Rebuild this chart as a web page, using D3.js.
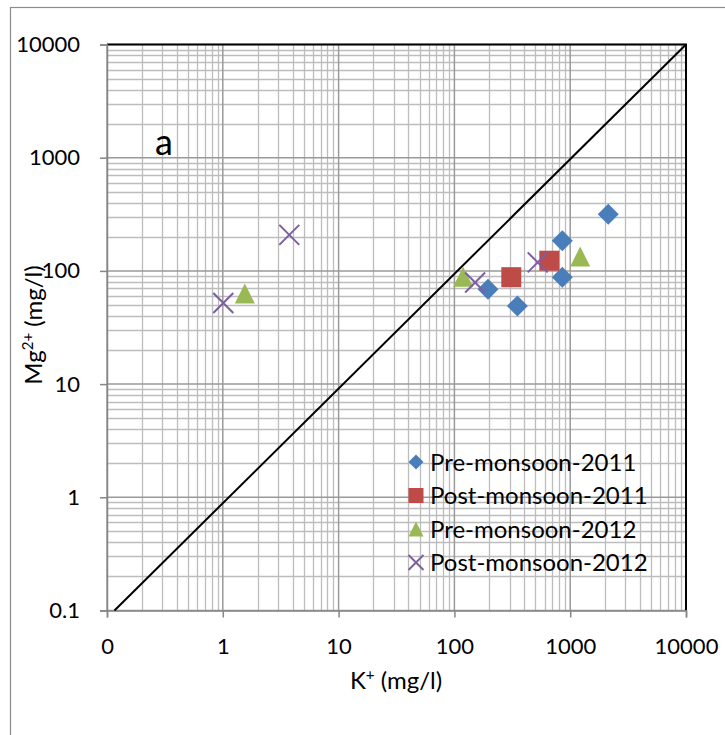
<!DOCTYPE html>
<html>
<head>
<meta charset="utf-8">
<script src="https://cdn.jsdelivr.net/npm/d3@7"></script>
<style>
  body { margin: 0; background: #fff; }
  svg text { font-family: Lato, "Liberation Sans", Arial, sans-serif; fill: #000; }
</style>
</head>
<body>
<svg id="chart" width="725" height="735"></svg>
<script>
/*** DATA ***/
var series_names = ["Pre-monsoon-2011", "Post-monsoon-2011", "Pre-monsoon-2012", "Post-monsoon-2012"];
var pre_2011  = [[2130, 317], [855, 185], [855, 88], [195, 69], [350, 49]];
var post_2011 = [[310, 88], [660, 123]];
var pre_2012  = [[1.55, 63], [119, 89], [1220, 134]];
var post_2012 = [[1.01, 52], [3.75, 208], [151, 79], [524, 119]];
var one_to_one = [[0.116, 0.1], [10000, 10000]];
var x_tick_values = [0.1, 1, 10, 100, 1000, 10000];
var x_tick_labels = ["0", "1", "10", "100", "1000", "10000"];
var y_tick_values = [0.1, 1, 10, 100, 1000, 10000];
var y_tick_labels = ["0.1", "1", "10", "100", "1000", "10000"];

/*** LAYOUT ***/
var svg = d3.select('#chart');
var plot = {left: 107, right: 686, top: 44.5, bottom: 610.5};
var font = 'Lato, "Liberation Sans", Arial, sans-serif';

var x = d3.scaleLog().domain([0.1, 10000]).range([plot.left, plot.right]);
var y = d3.scaleLog().domain([0.1, 10000]).range([plot.bottom, plot.top]);

// outer chart border
svg.append('rect')
    .attr('x', 10.5).attr('y', 7.5)
    .attr('width', 800).attr('height', 800)
    .attr('fill', 'none').attr('stroke', '#8c8c8c').attr('stroke-width', 1.2);

// gridlines (minor then major)
var grid = svg.append('g');
var minor_x = x.ticks().filter(function(v) { return x_tick_values.indexOf(v) < 0; }),
    minor_y = y.ticks().filter(function(v) { return y_tick_values.indexOf(v) < 0; });

grid.selectAll('.vminor').data(minor_x).enter().append('line')
    .attr('x1', function(d) { return Math.round(x(d)) + 0.5; })
    .attr('x2', function(d) { return Math.round(x(d)) + 0.5; })
    .attr('y1', plot.top).attr('y2', plot.bottom)
    .attr('stroke', '#bdbdbd').attr('stroke-width', 1.3);
grid.selectAll('.hminor').data(minor_y).enter().append('line')
    .attr('y1', function(d) { return Math.round(y(d)) + 0.5; })
    .attr('y2', function(d) { return Math.round(y(d)) + 0.5; })
    .attr('x1', plot.left).attr('x2', plot.right)
    .attr('stroke', '#bdbdbd').attr('stroke-width', 1.3);
grid.selectAll('.vmajor').data(x_tick_values).enter().append('line')
    .attr('x1', function(d) { return x(d); }).attr('x2', function(d) { return x(d); })
    .attr('y1', plot.top).attr('y2', plot.bottom)
    .attr('stroke', '#9a9a9a').attr('stroke-width', 1.5);
grid.selectAll('.hmajor').data(y_tick_values).enter().append('line')
    .attr('y1', function(d) { return y(d); }).attr('y2', function(d) { return y(d); })
    .attr('x1', plot.left).attr('x2', plot.right)
    .attr('stroke', '#9a9a9a').attr('stroke-width', 1.5);

// plot frame: top and right black
svg.append('path')
    .attr('d', `M${plot.left},${plot.top}H${plot.right}V${plot.bottom}`)
    .attr('fill', 'none').attr('stroke', '#000').attr('stroke-width', 2);

// axes
var x_axis = svg.append('g')
    .attr('transform', `translate(0, ${plot.bottom})`)
    .call(d3.axisBottom(x)
            .tickValues(x_tick_values)
            .tickSize(7).tickPadding(14)
            .tickFormat(function(d, i) { return x_tick_labels[i]; }));
var y_axis = svg.append('g')
    .attr('transform', `translate(${plot.left}, 0)`)
    .call(d3.axisLeft(y)
            .tickValues(y_tick_values)
            .tickSize(7).tickPadding(20)
            .tickFormat(function(d, i) { return y_tick_labels[i]; }));

[x_axis, y_axis].forEach(function(ax) {
    ax.select('.domain').attr('stroke', '#868686').attr('stroke-width', 1.5);
    ax.selectAll('.tick line').attr('stroke', '#868686').attr('stroke-width', 1.5);
    ax.selectAll('.tick text').attr('font-size', 22).attr('font-family', font).attr('fill', '#000');
});
x_axis.selectAll('.tick text').attr('y', 43).attr('dy', 0);

// axis titles
svg.append('text')
    .attr('x', 396).attr('y', 689)
    .attr('text-anchor', 'middle').attr('font-size', 24)
    .html('K<tspan dy="-9" font-size="15">+</tspan><tspan dy="9"> (mg/l)</tspan>');
svg.append('text')
    .attr('transform', 'translate(42, 325) rotate(-90)')
    .attr('text-anchor', 'middle').attr('font-size', 24)
    .html('Mg<tspan dy="-9" font-size="15">2+</tspan><tspan dy="9"> (mg/l)</tspan>');

// panel letter
svg.append('text')
    .attr('x', 155).attr('y', 155)
    .attr('font-size', 36).text('a');

// 1:1 line
svg.append('path')
    .datum(one_to_one)
    .attr('d', d3.line().x(function(d) { return x(d[0]); }).y(function(d) { return y(d[1]); }))
    .attr('fill', 'none').attr('stroke', '#000').attr('stroke-width', 2);

/*** MARKERS ***/
var colors = ['#4a7ebb', '#be4b48', '#98b954', '#7d5fa0'];

function draw_marker(g, kind, cx, cy, s) {
    if (kind == 0) {
        g.append('path').attr('d', `M${cx},${cy - s}L${cx + s},${cy}L${cx},${cy + s}L${cx - s},${cy}Z`)
            .attr('fill', colors[0]);
    } else if (kind == 1) {
        g.append('rect').attr('x', cx - s).attr('y', cy - s).attr('width', 2 * s).attr('height', 2 * s)
            .attr('fill', colors[1]);
    } else if (kind == 2) {
        g.append('path').attr('d', `M${cx},${cy - s}L${cx + s},${cy + s}L${cx - s},${cy + s}Z`)
            .attr('fill', colors[2]);
    } else {
        g.append('path').attr('d', `M${cx - s},${cy - s}L${cx + s},${cy + s}M${cx + s},${cy - s}L${cx - s},${cy + s}`)
            .attr('stroke', colors[3]).attr('stroke-width', 2).attr('fill', 'none');
    }
}

var all_series = [pre_2011, post_2011, pre_2012, post_2012];
var marks = svg.append('g');
all_series.forEach(function(ser, k) {
    ser.forEach(function(p) {
        draw_marker(marks, k, x(p[0]), y(p[1]), k == 0 ? 10.5 : 10);
    });
});

// legend
var legend = svg.append('g');
series_names.forEach(function(name, k) {
    var ly = 462 + k * 33.5;
    draw_marker(legend, k, 416, ly, 7.5);
    legend.append('text')
        .attr('x', 430).attr('y', ly).attr('dy', '0.36em')
        .attr('font-size', 24).text(name);
});
</script>
</body>
</html>
